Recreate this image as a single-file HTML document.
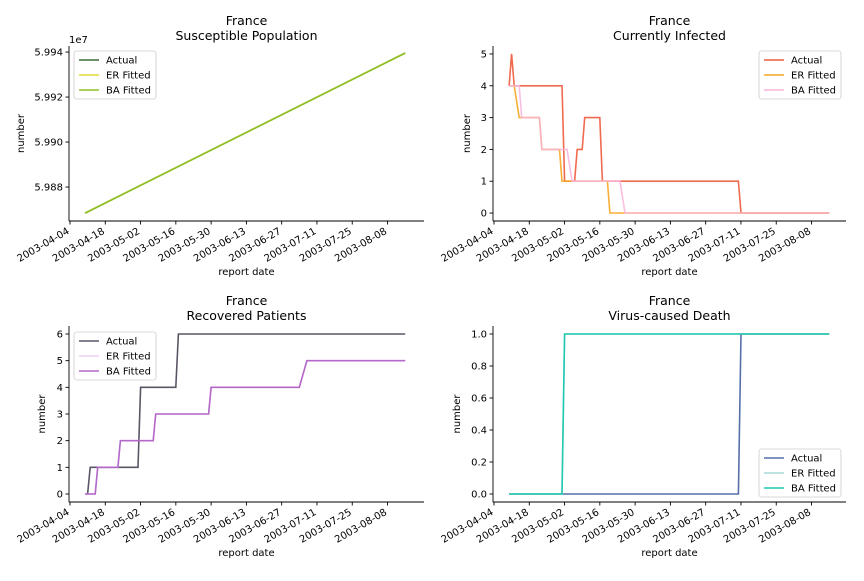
<!DOCTYPE html>
<html><head><meta charset="utf-8">
<style>
body{margin:0;background:#fff;font-family:"Liberation Sans","DejaVu Sans",sans-serif;}
svg text{font-family:"DejaVu Sans","Liberation Sans",sans-serif;}
</style></head>
<body>
<svg id="c" width="864" height="576" xmlns="http://www.w3.org/2000/svg"></svg>
<script>
const xTickLabels=["2003-04-04","2003-04-18","2003-05-02","2003-05-16","2003-05-30","2003-06-13","2003-06-27","2003-07-11","2003-07-25","2003-08-08"];
const xTickDays=[0,14,28,42,56,70,84,98,112,126];
// panel 1: susceptible (units of 1e7)
const susDays=[6,133];
const susActual=[5.98684,5.99396];
const susER=[5.98684,5.99396];
const susBA=[5.98684,5.99396];
// panel 2: infected
const infActualDays=[6,7,8,27,28,32,33,35,36,42,43,97,98,133];
const infActualVals=[4,5,4,4,1,1,2,2,3,3,1,1,0,0];
const infERDays=[6,8,10,18,19,26,27,45,46,133];
const infERVals=[4,4,3,3,2,2,1,1,0,0];
const infBADays=[6,10,11,18,19,29,31,50,52,133];
const infBAVals=[4,4,3,3,2,2,1,1,0,0];
// panel 3: recovered
const recActualDays=[6,7,8,27,28,42,43,133];
const recActualVals=[0,0,1,1,4,4,6,6];
const recBADays=[6,10,11,19,20,33,34,55,56,91,94,133];
const recBAVals=[0,0,1,1,2,2,3,3,4,4,5,5];
const recERDays=recBADays;
const recERVals=recBAVals;
// panel 4: deaths
const dthActualDays=[6,97,98,133];
const dthActualVals=[0,0,1,1];
const dthBADays=[6,27,28,133];
const dthBAVals=[0,0,1,1];
const dthERDays=dthBADays;
const dthERVals=dthBAVals;

const svg=document.getElementById('c');
const NS="http://www.w3.org/2000/svg";
function mk(tag,attrs,parent){const e=document.createElementNS(NS,tag);for(const k in attrs)e.setAttribute(k,attrs[k]);(parent||svg).appendChild(e);return e;}

const panels=[
 {key:'susceptible',L:69,R:424,T:46,B:221,ymin:5.98649,ymax:5.99427,yt:[5.988,5.990,5.992,5.994],yl:["5.988","5.990","5.992","5.994"],title:"Susceptible Population",ylx:24,
  series:[["Actual","#3b6e3b",susDays,susActual,1],["ER Fitted","#e3d83a",susDays,susER,1],["BA Fitted","#8dc226",susDays,susBA,1]],leg:[74,51],exp:true},
 {key:'infected',L:493,R:846,T:46,B:221,ymin:-0.25,ymax:5.25,yt:[0,1,2,3,4,5],yl:["0","1","2","3","4","5"],title:"Currently Infected",ylx:470,
  series:[["Actual","#ee5a3c",infActualDays,infActualVals,0.9],["ER Fitted","#f5a623",infERDays,infERVals,0.9],["BA Fitted","#f8b4dc",infBADays,infBAVals,0.85]],leg:[759,51]},
 {key:'recovered',L:69,R:424,T:326,B:502,ymin:-0.3,ymax:6.3,yt:[0,1,2,3,4,5,6],yl:["0","1","2","3","4","5","6"],title:"Recovered Patients",ylx:45,
  series:[["Actual","#5c5566",recActualDays,recActualVals,1],["ER Fitted","#ead2ef",recERDays,recERVals,1],["BA Fitted","#b469c9",recBADays,recBAVals,1]],leg:[74,332]},
 {key:'death',L:493,R:846,T:326,B:502,ymin:-0.05,ymax:1.05,yt:[0,0.2,0.4,0.6,0.8,1.0],yl:["0.0","0.2","0.4","0.6","0.8","1.0"],title:"Virus-caused Death",ylx:460,
  series:[["Actual","#5470a8",dthActualDays,dthActualVals,1],["ER Fitted","#a8dcd8",dthERDays,dthERVals,1],["BA Fitted","#20c9b0",dthBADays,dthBAVals,1]],leg:[759,449]}
];

panels.forEach(p=>{
  const x0=p.L+1;
  const xs=d=>x0+2.52*d;
  const ys=v=>p.B-(v-p.ymin)/(p.ymax-p.ymin)*(p.B-p.T);
  const g=mk('g',{});
  
  
  const cx=(p.L+p.R)/2;
  const t1=mk('text',{x:cx,y:p.T-21,'text-anchor':'middle','font-size':12.5,fill:'#000'},g);t1.textContent="France";
  
  
  const t2=mk('text',{x:cx,y:p.T-6,'text-anchor':'middle','font-size':12.5,fill:'#000'},g);t2.textContent=p.title;
  
  
  // series
  p.series.forEach(s=>{
    const pts=s[2].map((d,i)=>xs(d).toFixed(1)+','+ys(s[3][i]).toFixed(1)).join(' ');
    const pl=mk('polyline',{points:pts,fill:'none',stroke:s[1],'stroke-width':1.6,'stroke-opacity':s[4]},g);
    
    
  });
  // spines
  mk('line',{x1:p.L,y1:p.T,x2:p.L,y2:p.B,stroke:'#000','stroke-width':0.9},g);
  mk('line',{x1:p.L,y1:p.B,x2:p.R,y2:p.B,stroke:'#000','stroke-width':0.9},g);
  // y ticks
  p.yt.forEach((v,i)=>{
    const y=ys(v);
    mk('line',{x1:p.L-3.5,y1:y,x2:p.L,y2:y,stroke:'#000','stroke-width':0.9},g);
    const t=mk('text',{x:p.L-6,y:y+3.5,'text-anchor':'end','font-size':10,fill:'#000'},g);t.textContent=p.yl[i];
    
    
  });
  // x ticks
  xTickDays.forEach((d,i)=>{
    const x=xs(d);
    mk('line',{x1:x,y1:p.B,x2:x,y2:p.B+3.5,stroke:'#000','stroke-width':0.9},g);
    const t=mk('text',{x:x,y:p.B+12,'text-anchor':'end','font-size':10,fill:'#000',transform:`rotate(-30 ${x} ${p.B+12})`},g);t.textContent=xTickLabels[i];
    
    
  });
  const xl=mk('text',{x:cx,y:p.B+54,'text-anchor':'middle','font-size':10,fill:'#000'},g);xl.textContent="report date";
  
  
  const ym=(p.T+p.B)/2;
  const yl=mk('text',{x:p.ylx,y:ym,'text-anchor':'middle','font-size':10,fill:'#000',transform:`rotate(-90 ${p.ylx} ${ym})`},g);yl.textContent="number";
  
  
  if(p.exp){const e=mk('text',{x:p.L,y:p.T-3,'font-size':10,fill:'#000'},g);e.textContent="1e7";
    
    }
  // legend
  const [lx,ly]=p.leg;
  const lg=mk('g',{},g);
  
  
  mk('rect',{x:lx,y:ly,width:82,height:48,rx:2.5,fill:'#fff','fill-opacity':0.8,stroke:'#ccc','stroke-width':0.8},lg);
  p.series.forEach((s,i)=>{
    const yy=ly+9+i*15;
    mk('line',{x1:lx+5,y1:yy,x2:lx+25,y2:yy,stroke:s[1],'stroke-width':1.6},lg);
    const t=mk('text',{x:lx+32,y:yy+3.5,'font-size':10,fill:'#000'},lg);t.textContent=s[0];
    
    
  });
});
</script>
</body></html>
